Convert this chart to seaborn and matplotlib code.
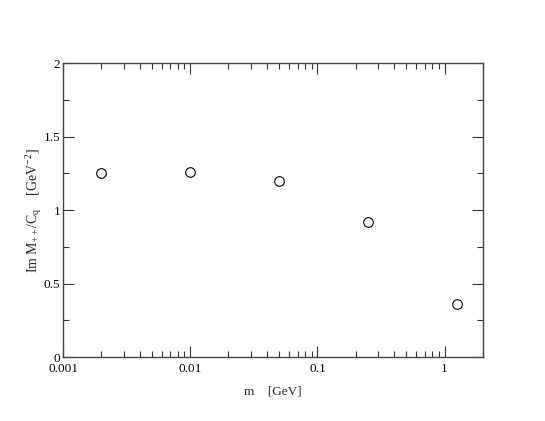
import pandas as pd
import seaborn as sns
import matplotlib
matplotlib.use('Agg')
import matplotlib.pyplot as plt
import matplotlib.ticker as mticker

# data
mass = [0.002, 0.01, 0.05, 0.25, 1.25]
im_m = [1.25, 1.26, 1.20, 0.92, 0.36]

sns.set_theme(style='ticks')
plt.rcParams['font.family'] = ['Liberation Serif', 'DejaVu Serif']
plt.rcParams['mathtext.fontset'] = 'custom'
plt.rcParams['mathtext.rm'] = 'Liberation Serif'
plt.rcParams['mathtext.it'] = 'Liberation Serif:italic'

df = pd.DataFrame({'m': mass, 'im': im_m})

fig = plt.figure(figsize=(5.45, 4.21), dpi=100)
ax = fig.add_axes([0.1156, 0.152, 0.7704, 0.698])

sns.scatterplot(data=df, x='m', y='im', ax=ax, marker='o', s=48,
                facecolor='white', edgecolor='black', linewidth=0.8)

ax.set_xscale('log')
ax.set_xlim(0.001, 2)
ax.set_ylim(0, 2)

ax.xaxis.set_major_locator(mticker.LogLocator(base=10))
ax.xaxis.set_minor_locator(mticker.LogLocator(base=10, subs=range(2, 10)))
ax.xaxis.set_major_formatter(mticker.FuncFormatter(lambda v, p: f'{v:g}'))
ax.xaxis.set_minor_formatter(mticker.NullFormatter())
ax.yaxis.set_major_locator(mticker.MultipleLocator(0.5))
ax.yaxis.set_minor_locator(mticker.MultipleLocator(0.25))
ax.yaxis.set_major_formatter(mticker.FuncFormatter(lambda v, p: f'{v:g}'))

ax.tick_params(which='both', direction='in', top=True, right=True,
               colors='#333333', labelcolor='black', labelsize=9.5, width=0.8)
ax.tick_params(which='major', length=8, pad=2)
ax.tick_params(axis='x', which='major', pad=4)
ax.tick_params(which='minor', length=4)
for s in ax.spines.values():
    s.set_color('#444444')
    s.set_linewidth(1.0)

ax.set_xlabel('m    [GeV]', fontsize=9.5, labelpad=8)
ax.set_ylabel(r'Im M$_{++}$/C$_{\rm q}$    [GeV$^{-2}$]', fontsize=10, labelpad=0)

fig.savefig('out.png', dpi=100)
